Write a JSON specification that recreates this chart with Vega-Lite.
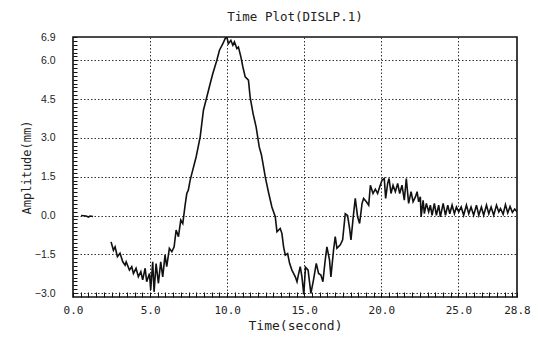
{
  "$schema": "https://vega.github.io/schema/vega-lite/v6.json",
  "autosize": {"type": "none"},
  "padding": {"left": 73, "top": 37, "right": 28, "bottom": 40},
  "width": 444,
  "height": 260,
  "background": "white",
  "title": {"text": "Time Plot(DISLP.1)", "font": "DejaVu Sans Mono", "fontSize": 12.5, "fontWeight": "normal", "color": "#222", "offset": 9, "anchor": "middle"},
  "config": {
    "view": {"stroke": "#111", "strokeWidth": 1.6},
    "axis": {"domain": false, "tickColor": "#111", "labelColor": "#222", "titleColor": "#222", "gridColor": "#333", "gridDash": [1.5, 2], "gridWidth": 1}
  },
  "data": {"values": [
    {"seg": "a", "t": 0.52, "v": 0.0}, {"seg": "a", "t": 0.85, "v": -0.02}, {"seg": "a", "t": 1.0, "v": -0.06}, {"seg": "a", "t": 1.1, "v": -0.02}, {"seg": "a", "t": 1.3, "v": -0.04},
    {"seg": "b", "t": 2.47, "v": -1.02}, {"seg": "b", "t": 2.62, "v": -1.34}, {"seg": "b", "t": 2.73, "v": -1.21}, {"seg": "b", "t": 2.88, "v": -1.59}, {"seg": "b", "t": 3.05, "v": -1.46},
    {"seg": "b", "t": 3.23, "v": -1.79}, {"seg": "b", "t": 3.38, "v": -1.92}, {"seg": "b", "t": 3.45, "v": -1.79}, {"seg": "b", "t": 3.66, "v": -2.11}, {"seg": "b", "t": 3.81, "v": -1.98},
    {"seg": "b", "t": 3.92, "v": -2.24}, {"seg": "b", "t": 4.09, "v": -2.04}, {"seg": "b", "t": 4.24, "v": -2.37}, {"seg": "b", "t": 4.4, "v": -2.17}, {"seg": "b", "t": 4.52, "v": -2.49},
    {"seg": "b", "t": 4.68, "v": -2.04}, {"seg": "b", "t": 4.78, "v": -2.56}, {"seg": "b", "t": 4.96, "v": -2.24}, {"seg": "b", "t": 5.04, "v": -2.88}, {"seg": "b", "t": 5.17, "v": -1.79},
    {"seg": "b", "t": 5.26, "v": -2.95}, {"seg": "b", "t": 5.39, "v": -1.86}, {"seg": "b", "t": 5.54, "v": -2.62}, {"seg": "b", "t": 5.69, "v": -1.79}, {"seg": "b", "t": 5.82, "v": -2.37},
    {"seg": "b", "t": 5.97, "v": -1.53}, {"seg": "b", "t": 6.08, "v": -1.98}, {"seg": "b", "t": 6.25, "v": -1.27}, {"seg": "b", "t": 6.41, "v": -1.4}, {"seg": "b", "t": 6.56, "v": -1.21},
    {"seg": "b", "t": 6.69, "v": -0.56}, {"seg": "b", "t": 6.84, "v": -0.82}, {"seg": "b", "t": 6.99, "v": -0.18}, {"seg": "b", "t": 7.12, "v": -0.31}, {"seg": "b", "t": 7.27, "v": 0.39},
    {"seg": "b", "t": 7.38, "v": 0.85}, {"seg": "b", "t": 7.48, "v": 0.98}, {"seg": "b", "t": 7.6, "v": 1.37}, {"seg": "b", "t": 7.7, "v": 1.6}, {"seg": "b", "t": 7.99, "v": 2.27},
    {"seg": "b", "t": 8.25, "v": 3.04}, {"seg": "b", "t": 8.46, "v": 4.07}, {"seg": "b", "t": 8.68, "v": 4.58}, {"seg": "b", "t": 8.9, "v": 5.1}, {"seg": "b", "t": 9.07, "v": 5.49},
    {"seg": "b", "t": 9.33, "v": 6.0}, {"seg": "b", "t": 9.5, "v": 6.39}, {"seg": "b", "t": 9.72, "v": 6.64}, {"seg": "b", "t": 9.87, "v": 6.84}, {"seg": "b", "t": 9.98, "v": 6.9},
    {"seg": "b", "t": 10.08, "v": 6.64}, {"seg": "b", "t": 10.24, "v": 6.77}, {"seg": "b", "t": 10.37, "v": 6.58}, {"seg": "b", "t": 10.47, "v": 6.71}, {"seg": "b", "t": 10.63, "v": 6.45},
    {"seg": "b", "t": 10.73, "v": 6.51}, {"seg": "b", "t": 10.89, "v": 6.13}, {"seg": "b", "t": 11.02, "v": 5.74}, {"seg": "b", "t": 11.17, "v": 5.36}, {"seg": "b", "t": 11.38, "v": 5.23},
    {"seg": "b", "t": 11.49, "v": 4.58}, {"seg": "b", "t": 11.68, "v": 3.94}, {"seg": "b", "t": 11.88, "v": 3.42}, {"seg": "b", "t": 12.08, "v": 2.65}, {"seg": "b", "t": 12.22, "v": 2.35},
    {"seg": "b", "t": 12.36, "v": 1.88}, {"seg": "b", "t": 12.47, "v": 1.49}, {"seg": "b", "t": 12.68, "v": 0.9}, {"seg": "b", "t": 12.9, "v": 0.33}, {"seg": "b", "t": 13.12, "v": -0.05},
    {"seg": "b", "t": 13.23, "v": -0.63}, {"seg": "b", "t": 13.44, "v": -0.5}, {"seg": "b", "t": 13.55, "v": -0.69}, {"seg": "b", "t": 13.66, "v": -1.21}, {"seg": "b", "t": 13.77, "v": -1.53},
    {"seg": "b", "t": 13.92, "v": -1.47}, {"seg": "b", "t": 14.05, "v": -1.85}, {"seg": "b", "t": 14.2, "v": -2.11}, {"seg": "b", "t": 14.42, "v": -2.37}, {"seg": "b", "t": 14.53, "v": -2.56},
    {"seg": "b", "t": 14.64, "v": -2.24}, {"seg": "b", "t": 14.74, "v": -1.98}, {"seg": "b", "t": 14.85, "v": -2.37}, {"seg": "b", "t": 14.97, "v": -3.05}, {"seg": "b", "t": 15.08, "v": -2.0},
    {"seg": "b", "t": 15.25, "v": -2.11}, {"seg": "b", "t": 15.43, "v": -3.01}, {"seg": "b", "t": 15.6, "v": -2.49}, {"seg": "b", "t": 15.78, "v": -1.85}, {"seg": "b", "t": 15.93, "v": -2.24},
    {"seg": "b", "t": 16.08, "v": -2.3}, {"seg": "b", "t": 16.21, "v": -2.56}, {"seg": "b", "t": 16.36, "v": -1.72}, {"seg": "b", "t": 16.47, "v": -1.21}, {"seg": "b", "t": 16.64, "v": -1.72},
    {"seg": "b", "t": 16.73, "v": -2.37}, {"seg": "b", "t": 16.9, "v": -1.34}, {"seg": "b", "t": 17.01, "v": -0.82}, {"seg": "b", "t": 17.12, "v": -1.27}, {"seg": "b", "t": 17.34, "v": -1.13},
    {"seg": "b", "t": 17.49, "v": -0.94}, {"seg": "b", "t": 17.66, "v": 0.07}, {"seg": "b", "t": 17.81, "v": 0.0}, {"seg": "b", "t": 17.94, "v": -0.5}, {"seg": "b", "t": 18.03, "v": -0.94},
    {"seg": "b", "t": 18.2, "v": 0.07}, {"seg": "b", "t": 18.31, "v": 0.66}, {"seg": "b", "t": 18.46, "v": -0.05}, {"seg": "b", "t": 18.59, "v": -0.31}, {"seg": "b", "t": 18.75, "v": 0.47},
    {"seg": "b", "t": 18.85, "v": 0.66}, {"seg": "b", "t": 19.03, "v": 0.53}, {"seg": "b", "t": 19.18, "v": 0.4}, {"seg": "b", "t": 19.29, "v": 1.17}, {"seg": "b", "t": 19.46, "v": 0.85},
    {"seg": "b", "t": 19.61, "v": 1.02}, {"seg": "b", "t": 19.76, "v": 0.85}, {"seg": "b", "t": 19.89, "v": 1.1}, {"seg": "b", "t": 20.05, "v": 1.37}, {"seg": "b", "t": 20.19, "v": 1.43},
    {"seg": "b", "t": 20.28, "v": 0.66}, {"seg": "b", "t": 20.41, "v": 1.24}, {"seg": "b", "t": 20.5, "v": 1.43}, {"seg": "b", "t": 20.63, "v": 0.85}, {"seg": "b", "t": 20.76, "v": 1.17},
    {"seg": "b", "t": 20.91, "v": 0.92}, {"seg": "b", "t": 21.06, "v": 1.24}, {"seg": "b", "t": 21.19, "v": 0.85}, {"seg": "b", "t": 21.34, "v": 1.17}, {"seg": "b", "t": 21.49, "v": 0.59},
    {"seg": "b", "t": 21.62, "v": 1.43}, {"seg": "b", "t": 21.77, "v": 0.47}, {"seg": "b", "t": 21.93, "v": 0.92}, {"seg": "b", "t": 22.06, "v": 0.53}, {"seg": "b", "t": 22.21, "v": 0.72},
    {"seg": "b", "t": 22.32, "v": 0.92}, {"seg": "b", "t": 22.42, "v": 0.53}, {"seg": "b", "t": 22.53, "v": 0.72}, {"seg": "b", "t": 22.58, "v": -0.05}, {"seg": "b", "t": 22.71, "v": 0.59},
    {"seg": "b", "t": 22.79, "v": 0.07}, {"seg": "b", "t": 22.92, "v": 0.47}, {"seg": "b", "t": 23.07, "v": 0.14}, {"seg": "b", "t": 23.18, "v": 0.4}, {"seg": "b", "t": 23.29, "v": 0.01},
    {"seg": "b", "t": 23.44, "v": 0.47}, {"seg": "b", "t": 23.57, "v": 0.01}, {"seg": "b", "t": 23.72, "v": 0.4}, {"seg": "b", "t": 23.83, "v": -0.05}, {"seg": "b", "t": 24.01, "v": 0.47},
    {"seg": "b", "t": 24.16, "v": 0.01}, {"seg": "b", "t": 24.31, "v": 0.4}, {"seg": "b", "t": 24.44, "v": 0.07}, {"seg": "b", "t": 24.59, "v": 0.4}, {"seg": "b", "t": 24.74, "v": 0.07},
    {"seg": "b", "t": 24.87, "v": 0.33}, {"seg": "b", "t": 25.02, "v": 0.14}, {"seg": "b", "t": 25.18, "v": 0.33}, {"seg": "b", "t": 25.34, "v": 0.01}, {"seg": "b", "t": 25.52, "v": 0.4},
    {"seg": "b", "t": 25.67, "v": 0.07}, {"seg": "b", "t": 25.82, "v": 0.33}, {"seg": "b", "t": 25.99, "v": 0.01}, {"seg": "b", "t": 26.17, "v": 0.4}, {"seg": "b", "t": 26.32, "v": 0.01},
    {"seg": "b", "t": 26.49, "v": 0.33}, {"seg": "b", "t": 26.64, "v": 0.01}, {"seg": "b", "t": 26.82, "v": 0.4}, {"seg": "b", "t": 26.97, "v": 0.07}, {"seg": "b", "t": 27.12, "v": 0.33},
    {"seg": "b", "t": 27.29, "v": 0.01}, {"seg": "b", "t": 27.47, "v": 0.4}, {"seg": "b", "t": 27.62, "v": 0.14}, {"seg": "b", "t": 27.73, "v": 0.27}, {"seg": "b", "t": 27.9, "v": 0.05},
    {"seg": "b", "t": 28.05, "v": 0.42}, {"seg": "b", "t": 28.2, "v": 0.1}, {"seg": "b", "t": 28.35, "v": 0.35}, {"seg": "b", "t": 28.5, "v": 0.12}, {"seg": "b", "t": 28.65, "v": 0.25},
    {"seg": "b", "t": 28.8, "v": 0.15}
  ]},
  "mark": {"type": "line", "color": "#111", "strokeWidth": 1.6, "strokeJoin": "miter", "clip": true},
  "encoding": {
    "detail": {"field": "seg"},
    "x": {
      "field": "t", "type": "quantitative",
      "scale": {"domain": [0, 28.8], "nice": false, "zero": false},
      "axis": {
        "title": "Time(second)", "titleFont": "DejaVu Sans Mono", "titleFontSize": 13, "titleFontWeight": "normal", "titlePadding": 4,
        "values": [0, 0.5, 1, 1.5, 2, 2.5, 3, 3.5, 4, 4.5, 5, 5.5, 6, 6.5, 7, 7.5, 8, 8.5, 9, 9.5, 10, 10.5, 11, 11.5, 12, 12.5, 13, 13.5, 14, 14.5, 15, 15.5, 16, 16.5, 17, 17.5, 18, 18.5, 19, 19.5, 20, 20.5, 21, 21.5, 22, 22.5, 23, 23.5, 24, 24.5, 25, 25.5, 26, 26.5, 27, 27.5, 28, 28.5, 28.8],
        "labelExpr": "(datum.value % 5 == 0) || datum.value > 28.7 ? format(datum.value, '.1f') : ''",
        "labelFont": "DejaVu Sans Mono", "labelFontSize": 11, "labelFlush": false, "labelOverlap": false, "labelPadding": 7,
        "offset": -5, "tickSize": 5, "tickWidth": 1,
        "grid": true,
        "gridOpacity": {"condition": {"test": "datum.value % 5 == 0 && datum.value > 0 && datum.value < 28", "value": 1}, "value": 0}
      }
    },
    "y": {
      "field": "v", "type": "quantitative",
      "scale": {"domain": [-3.15, 6.9], "nice": false, "zero": false},
      "axis": {
        "title": "Amplitude(mm)", "titleFont": "DejaVu Sans Mono", "titleFontSize": 12, "titleFontWeight": "normal", "titlePadding": 1,
        "values": [-3.0, -2.85, -2.7, -2.55, -2.4, -2.25, -2.1, -1.95, -1.8, -1.65, -1.5, -1.35, -1.2, -1.05, -0.9, -0.75, -0.6, -0.45, -0.3, -0.15, 0, 0.15, 0.3, 0.45, 0.6, 0.75, 0.9, 1.05, 1.2, 1.35, 1.5, 1.65, 1.8, 1.95, 2.1, 2.25, 2.4, 2.55, 2.7, 2.85, 3.0, 3.15, 3.3, 3.45, 3.6, 3.75, 3.9, 4.05, 4.2, 4.35, 4.5, 4.65, 4.8, 4.95, 5.1, 5.25, 5.4, 5.55, 5.7, 5.85, 6.0, 6.15, 6.3, 6.45, 6.6, 6.75, 6.9],
        "labelExpr": "abs(datum.value / 1.5 - round(datum.value / 1.5)) < 0.01 || datum.value > 6.85 ? format(datum.value, '.1f') : ''",
        "labelFont": "Liberation Sans", "labelFontSize": 10.5, "labelOverlap": false, "labelFlush": false, "labelPadding": 18,
        "offset": -4, "tickSize": 4, "tickWidth": 1,
        "grid": true,
        "gridOpacity": {"condition": {"test": "abs(datum.value / 1.5 - round(datum.value / 1.5)) < 0.01 && datum.value < 6.8", "value": 1}, "value": 0}
      }
    }
  }
}
